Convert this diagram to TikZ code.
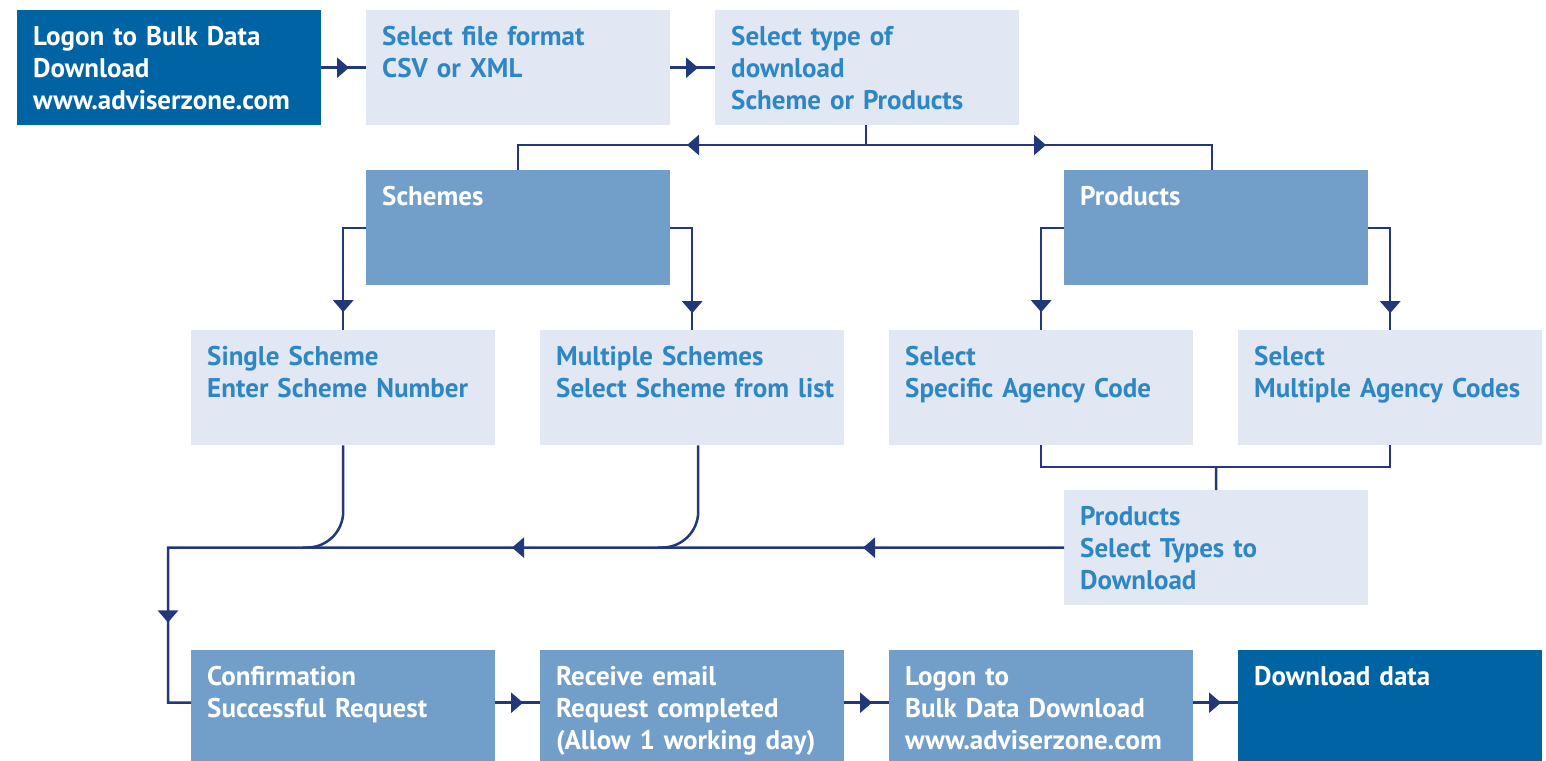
\documentclass[tikz,border=0pt]{standalone}
\usepackage{fontspec}
\setmainfont{PT Sans}
\usetikzlibrary{arrows.meta,decorations.markings}
\definecolor{darkblue}{HTML}{0064A4}
\definecolor{midblue}{HTML}{729FCA}
\definecolor{paleblue}{HTML}{E1E7F3}
\definecolor{textblue}{HTML}{2E87C3}
\definecolor{linkblue}{HTML}{22387A}
\begin{document}
\begin{tikzpicture}[x=1pt,y=-1pt,
  box/.style={anchor=north west, inner xsep=16pt, inner ysep=0pt, text width=272pt,
    text height=35pt, text depth=80pt, align=left,
    font=\bfseries\fontsize{27}{32}\selectfont},
  palebox/.style={box, fill=paleblue, text=textblue},
  midbox/.style={box, fill=midblue, text=white},
  darkbox/.style={box, fill=darkblue, text=white},
  link/.style={line width=2.5pt, draw=linkblue},
  tipat/.style={postaction={decorate,decoration={markings,
    mark=at position #1 with {\arrow[linkblue]{Triangle[length=12pt,width=20pt]}}}}}]
\useasboundingbox (0,0) rectangle (1546,760);

% top row
\node[darkbox] (logon) at (17,10) {Logon to Bulk Data\\Download\\www.adviserzone.com};
\node[palebox] (format) at (366,10) {Select file format\\CSV or XML};
\node[palebox] (dltype) at (715,10) {Select type of\\download\\Scheme or Products};

% schemes / products
\node[midbox] (schemes) at (366,170) {Schemes};
\node[midbox] (products) at (1064,170) {Products};

\node[palebox] (single) at (191,330) {Single Scheme\\Enter Scheme Number};
\node[palebox] (multiple) at (540,330) {Multiple Schemes\\\mbox{Select Scheme from list}};
\node[palebox] (specific) at (889,330) {Select\\Specific Agency Code};
\node[palebox] (multicode) at (1238,330) {Select\\\mbox{Multiple Agency Codes}};
\node[palebox] (types) at (1064,490) {Products\\Select Types to\\Download};

% bottom row
\node[midbox] (confirm) at (191,650) {Confirmation\\Successful Request};
\node[midbox] (email) at (540,650) {Receive email\\Request completed\\(Allow 1 working day)};
\node[midbox] (logon2) at (889,650) {Logon to\\Bulk Data Download\\www.adviserzone.com};
\node[darkbox] (download) at (1238,650) {Download data};

\coordinate (split) at (866,145);
\coordinate (merge) at (1216,467);
\coordinate (turn) at (168,547.5);

\draw[link, tipat=0.62] (logon) -- (format);
\draw[link, tipat=0.62] (format) -- (dltype);
\draw[link] (dltype.south -| split) -- (split);
\draw[link, tipat=179pt] (split) -| (schemes.north);
\draw[link, tipat=180pt] (split) -| ([xshift=-4pt]products.north);

\draw[link, tipat=107pt] (schemes.west |- 0,228) -| (single.north);
\draw[link, tipat=107pt] (schemes.east |- 0,228) -| (multiple.north);
\draw[link, tipat=107pt] (products.west |- 0,228) -| (specific.north);
\draw[link, tipat=107pt] (products.east |- 0,228) -| (multicode.north);

\draw[link] (specific.south) |- (merge) -| (multicode.south);
\draw[link] (merge) -- (types.north);

\draw[link, tipat=201pt, tipat=552pt, tipat=971pt] (types.west) -- (turn) |- ([yshift=5pt]confirm.west);
\draw[link, rounded corners=36pt] (single.south) |- ([xshift=-40pt]single.south |- turn);
\draw[link, rounded corners=36pt] ([xshift=6pt]multiple.south) |- ([xshift=-34pt]multiple.south |- turn);

\draw[link, tipat=0.62] ([yshift=5pt]confirm.east) -- ([yshift=5pt]email.west);
\draw[link, tipat=0.62] ([yshift=5pt]email.east) -- ([yshift=5pt]logon2.west);
\draw[link, tipat=0.62] ([yshift=5pt]logon2.east) -- ([yshift=5pt]download.west);
\end{tikzpicture}
\end{document}
